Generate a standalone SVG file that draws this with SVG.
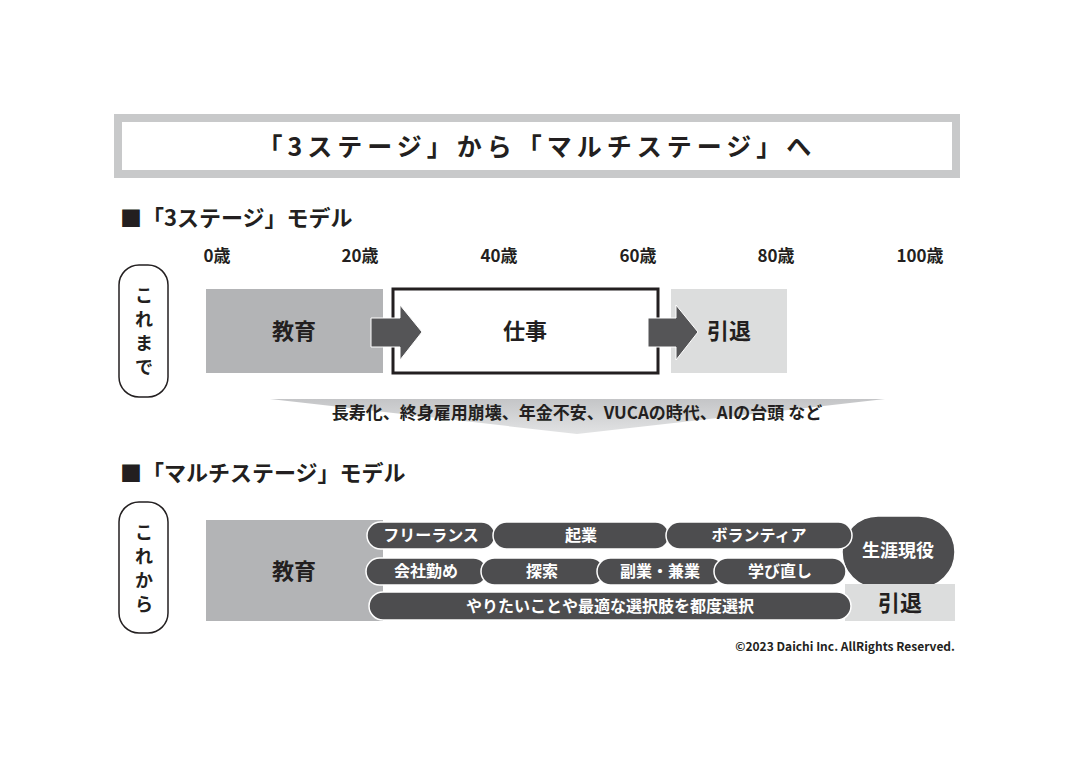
<svg xmlns="http://www.w3.org/2000/svg" width="1075" height="765" viewBox="0 0 1075 765">
<style>
text{font-family:"Noto Sans CJK JP","Liberation Sans",sans-serif;font-weight:bold;fill:#231f20}
.age{font-size:17px;text-anchor:middle}
.pill{fill:#4d4d4f;stroke:#fff;stroke-width:1.5}
.pt{fill:#fff;font-size:16px;text-anchor:middle}
.side{fill:#fff;stroke:#231f20;stroke-width:1.5}
.big{font-size:22px;text-anchor:middle}
.v{font-size:18px;text-anchor:middle}
</style>
<defs>
<linearGradient id="g" x1="0" y1="0" x2="0" y2="1"><stop offset="0" stop-color="#c4c5c7"/><stop offset="1" stop-color="#e2e3e4"/></linearGradient>
</defs>
<rect width="1075" height="765" fill="#fff"/>
<g id="title"><rect x="118" y="118" width="838" height="56" fill="#fff" stroke="#c8c9ca" stroke-width="8"/>
<text x="537" y="156" font-size="25" text-anchor="middle" letter-spacing="5">「3ステージ」から「マルチステージ」へ</text></g>
<text x="120" y="226" font-size="22">■「3ステージ」モデル</text>
<g id="ages"><text class="age" x="217" y="262">0歳</text><text class="age" x="360" y="262">20歳</text><text class="age" x="499" y="262">40歳</text><text class="age" x="638" y="262">60歳</text><text class="age" x="776" y="262">80歳</text><text class="age" x="920" y="262">100歳</text></g>
<g id="koremade"><rect class="side" x="119" y="265" width="49" height="132" rx="20"/>
<text class="v" x="144" y="302">こ</text><text class="v" x="144" y="326">れ</text><text class="v" x="144" y="350">ま</text><text class="v" x="144" y="374">で</text></g>
<g id="edu1"><rect x="206" y="289" width="177" height="84" fill="#b3b4b6"/><text class="big" x="294" y="339">教育</text></g>
<g id="work"><rect x="393" y="289" width="265" height="84" fill="#fff" stroke="#231f20" stroke-width="3"/><text class="big" x="525" y="339">仕事</text></g>
<g id="ret1"><rect x="671" y="289" width="116" height="84" fill="#dcdddd"/><text class="big" x="729" y="339">引退</text></g>
<g id="connectors">
<polygon points="371,318 400,318 400,305 422,332 400,360 400,347 371,347" fill="#555557" stroke="#fff" stroke-width="1"/>
<polygon points="648,318 676,318 676,305 698,332 676,360 676,347 648,347" fill="#555557" stroke="#fff" stroke-width="1"/>
<polygon points="270,399 885,399 577,434" fill="url(#g)"/>
</g>
<text x="577" y="419" font-size="17" text-anchor="middle">長寿化、終身雇用崩壊、年金不安、VUCAの時代、AIの台頭 など</text>
<text x="120" y="481" font-size="22">■「マルチステージ」モデル</text>
<g id="korekara"><rect class="side" x="119" y="502" width="49" height="131" rx="20"/>
<text class="v" x="144" y="539">こ</text><text class="v" x="144" y="563">れ</text><text class="v" x="144" y="587">か</text><text class="v" x="144" y="611">ら</text></g>
<g id="edu2"><rect x="206" y="520" width="177" height="101" fill="#b3b4b6"/><text class="big" x="294" y="579">教育</text></g>
<g id="shogai"><rect x="842" y="516" width="113" height="72" rx="36" fill="#4d4d4f" stroke="#fff" stroke-width="1.5"/><text x="898" y="557" font-size="18" text-anchor="middle" style="fill:#fff">生涯現役</text></g>
<g id="ret2"><rect x="845" y="584" width="110" height="37" fill="#dcdddd"/><text class="big" x="900" y="611">引退</text></g>
<g id="pills">
<rect class="pill" x="367" y="522" width="128" height="27" rx="13.5"/><text class="pt" x="431" y="541">フリーランス</text>
<rect class="pill" x="493" y="522" width="176" height="27" rx="13.5"/><text class="pt" x="581" y="541">起業</text>
<rect class="pill" x="666" y="522" width="186" height="27" rx="13.5"/><text class="pt" x="759" y="541">ボランティア</text>
<rect class="pill" x="366" y="558" width="121" height="27" rx="13.5"/><text class="pt" x="426" y="577">会社勤め</text>
<rect class="pill" x="481" y="558" width="123" height="27" rx="13.5"/><text class="pt" x="542" y="577">探索</text>
<rect class="pill" x="597" y="558" width="127" height="27" rx="13.5"/><text class="pt" x="660" y="577">副業・兼業</text>
<rect class="pill" x="714" y="558" width="132" height="27" rx="13.5"/><text class="pt" x="780" y="577">学び直し</text>
<rect class="pill" x="369" y="592" width="482" height="28" rx="14"/><text class="pt" x="610" y="612">やりたいことや最適な選択肢を都度選択</text>
</g>
<text x="955" y="651" font-size="12" text-anchor="end">©2023 Daichi Inc. AllRights Reserved.</text>
</svg>
